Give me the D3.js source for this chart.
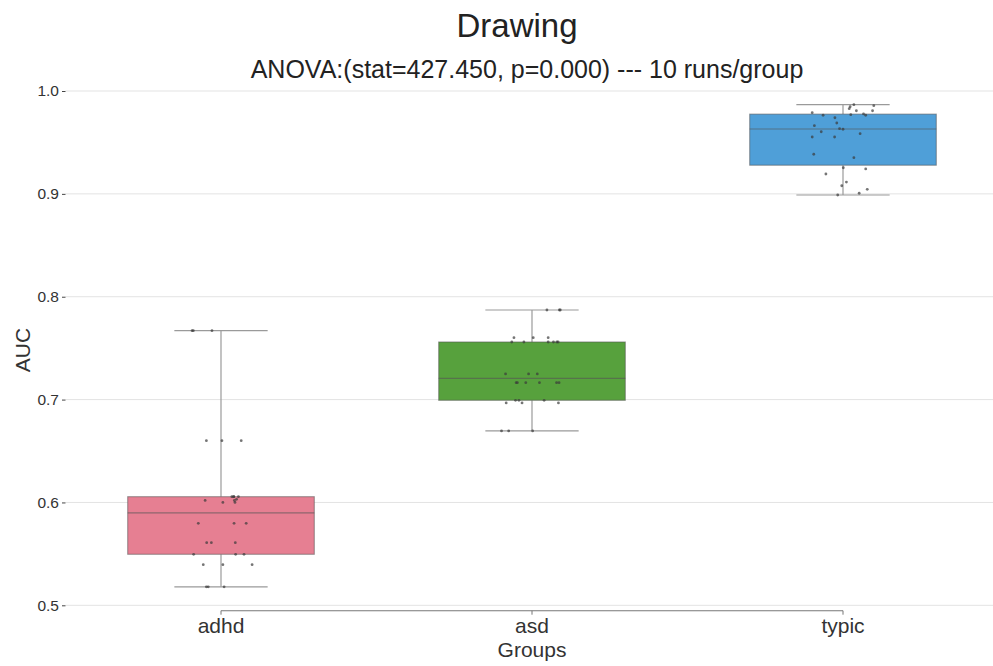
<!DOCTYPE html>
<html>
<head>
<meta charset="utf-8">
<script src="https://cdn.jsdelivr.net/npm/d3@7"></script>
<style>
  html, body { margin: 0; padding: 0; background: #fff; }
  svg { display: block; font-family: "Liberation Sans", Arial, sans-serif; }
</style>
</head>
<body>
<svg id="chart" width="993" height="666"></svg>
<script>
// ---- Data ----
const categories = ["adhd", "asd", "typic"];
const colors = ["#e67f92", "#57a13d", "#4f9fd8"];
const yTicks = [0.5, 0.6, 0.7, 0.8, 0.9, 1.0];

const adhdValues = [0.767, 0.767, 0.767, 0.660, 0.660, 0.660, 0.6056, 0.6056, 0.6056,
  0.602, 0.600, 0.602, 0.603, 0.600, 0.5797, 0.5797, 0.5797, 0.5609, 0.5609, 0.5609,
  0.5496, 0.5496, 0.5496, 0.5395, 0.5395, 0.5395, 0.518, 0.518, 0.518, 0.6056];
const adhdJitter = [-0.093, -0.089, -0.029, -0.047, 0.003, 0.065, 0.035, 0.041, 0.056,
  -0.051, 0.006, 0.043, 0.050, 0.045, -0.073, 0.042, 0.081, -0.046, -0.031, 0.046,
  -0.088, 0.047, 0.074, -0.057, 0.006, 0.100, -0.047, -0.041, 0.010, 0.041];

const asdValues = [0.7871, 0.7871, 0.7871, 0.7602, 0.7602, 0.7602, 0.756, 0.756, 0.756,
  0.756, 0.756, 0.756, 0.7249, 0.7249, 0.7249, 0.7164, 0.7164, 0.7164, 0.7164, 0.7164,
  0.7164, 0.6967, 0.6967, 0.6967, 0.6993, 0.6993, 0.6993, 0.6695, 0.6695, 0.6695];
const asdJitter = [0.048, 0.088, 0.091, -0.058, 0.004, 0.052, -0.065, -0.026, 0.052,
  0.069, 0.080, 0.084, -0.085, -0.011, 0.017, -0.051, -0.047, -0.020, 0.024, 0.079,
  0.087, -0.083, -0.032, 0.085, -0.053, -0.042, 0.039, -0.098, -0.075, 0.002];

const typicValues = [0.9867, 0.9847, 0.9828, 0.9857, 0.9808, 0.9808, 0.9789, 0.9764, 0.977,
  0.9777, 0.9764, 0.974, 0.9689, 0.9663, 0.9634, 0.9628, 0.9604, 0.9585, 0.9553, 0.9553,
  0.9385, 0.9352, 0.9254, 0.9242, 0.9193, 0.9115, 0.9079, 0.9044, 0.9006, 0.8989];
const typicJitter = [0.035, 0.023, 0.020, 0.099, 0.043, 0.095, -0.099, -0.064, 0.025,
  0.066, 0.073, -0.026, -0.020, -0.092, -0.011, 0.000, -0.070, 0.055, -0.099, -0.027,
  -0.094, 0.035, 0.001, 0.073, -0.055, 0.011, -0.004, 0.078, 0.052, -0.017];

const titleText = "Drawing";
const subtitleText = "ANOVA:(stat=427.450, p=0.000) --- 10 runs/group";
const xLabel = "Groups";
const yLabel = "AUC";

// ---- Build ----
const groups = [
  { name: "adhd", values: adhdValues, jitter: adhdJitter },
  { name: "asd", values: asdValues, jitter: asdJitter },
  { name: "typic", values: typicValues, jitter: typicJitter }
].map((g, i) => {
  const s = g.values.slice().sort(d3.ascending);
  return {
    ...g, color: colors[i],
    q1: d3.quantile(s, 0.25), med: d3.quantile(s, 0.5), q3: d3.quantile(s, 0.75),
    lo: d3.min(s), hi: d3.max(s)
  };
});

const svg = d3.select("#chart");
const W = 993, H = 666;
const plotLeft = 65.5, plotRight = 998.5;

const x = d3.scaleBand().domain(categories).range([plotLeft, plotRight]).padding(0);
const y = d3.scaleLinear().domain([0.5, 1.0]).range([605.3, 91]);
const bw = x.bandwidth();
const boxW = bw * 0.6;
const capW = boxW * 0.5;

// Gridlines
svg.append("g").selectAll("line").data(yTicks).join("line")
  .attr("x1", plotLeft).attr("x2", W)
  .attr("y1", d => y(d)).attr("y2", d => y(d))
  .attr("stroke", "#e3e3e3").attr("stroke-width", 1);

// Y axis (no spine)
const yAxis = svg.append("g")
  .attr("transform", `translate(${plotLeft},0)`)
  .call(d3.axisLeft(y).tickValues(yTicks).tickFormat(d3.format(".1f")).tickSize(3.5).tickPadding(3));
yAxis.select(".domain").remove();
yAxis.selectAll(".tick line").attr("stroke", "#444");
yAxis.selectAll(".tick text").attr("fill", "#333").style("font-size", "15.5px")
  .style("font-family", '"Liberation Sans", Arial, sans-serif');

// X axis (trimmed spine, offset)
const centers = categories.map(c => x(c) + bw / 2);
const xAxisY = 610.7;
const xg = svg.append("g").attr("transform", `translate(0,${xAxisY})`);
xg.append("line")
  .attr("x1", d3.min(centers)).attr("x2", d3.max(centers))
  .attr("stroke", "#777").attr("stroke-width", 1.1);
const xAxisGen = d3.axisBottom(x).tickSize(4).tickPadding(3);
const xa = xg.append("g").call(xAxisGen);
xa.select(".domain").remove();
xa.selectAll(".tick line").attr("stroke", "#777");
xa.selectAll(".tick text").attr("fill", "#333").style("font-size", "21px")
  .style("font-family", '"Liberation Sans", Arial, sans-serif');

// Boxes
const gBox = svg.append("g");
groups.forEach(g => {
  const cx = x(g.name) + bw / 2;
  gBox.append("line").attr("x1", cx).attr("x2", cx).attr("y1", y(g.hi)).attr("y2", y(g.q3))
    .attr("stroke", "#9a9a9a").attr("stroke-width", 1.2);
  gBox.append("line").attr("x1", cx).attr("x2", cx).attr("y1", y(g.q1)).attr("y2", y(g.lo))
    .attr("stroke", "#9a9a9a").attr("stroke-width", 1.2);
  [g.hi, g.lo].forEach(v => {
    gBox.append("line").attr("x1", cx - capW / 2).attr("x2", cx + capW / 2)
      .attr("y1", y(v)).attr("y2", y(v))
      .attr("stroke", "#9a9a9a").attr("stroke-width", 1.2);
  });
  gBox.append("rect")
    .attr("x", cx - boxW / 2).attr("width", boxW)
    .attr("y", y(g.q3)).attr("height", y(g.q1) - y(g.q3))
    .attr("fill", g.color)
    .attr("stroke", "#555").attr("stroke-opacity", 0.55).attr("stroke-width", 1.1);
  gBox.append("line").attr("x1", cx - boxW / 2).attr("x2", cx + boxW / 2)
    .attr("y1", y(g.med)).attr("y2", y(g.med))
    .attr("stroke", "#555").attr("stroke-opacity", 0.6).attr("stroke-width", 1.1);
});

// Points
const gPts = svg.append("g");
groups.forEach(g => {
  gPts.selectAll(null).data(g.values.map((v, i) => ({ v, j: g.jitter[i] }))).join("circle")
    .attr("cx", d => x(g.name) + bw / 2 + d.j * bw)
    .attr("cy", d => y(d.v))
    .attr("r", 1.4)
    .attr("fill", "#3a3a3a").attr("fill-opacity", 0.7);
});

// Titles and labels
svg.append("text").attr("x", 517).attr("y", 37).attr("text-anchor", "middle")
  .attr("fill", "#222").style("font-size", "33px").text(titleText);
svg.append("text").attr("x", 527).attr("y", 78).attr("text-anchor", "middle")
  .attr("fill", "#222").style("font-size", "25px").text(subtitleText);
svg.append("text").attr("x", d3.mean(centers)).attr("y", 657).attr("text-anchor", "middle")
  .attr("fill", "#333").style("font-size", "21px").text(xLabel);
svg.append("text").attr("transform", `translate(30,${350}) rotate(-90)`).attr("text-anchor", "middle")
  .attr("fill", "#333").style("font-size", "21px").text(yLabel);
</script>
</body>
</html>
